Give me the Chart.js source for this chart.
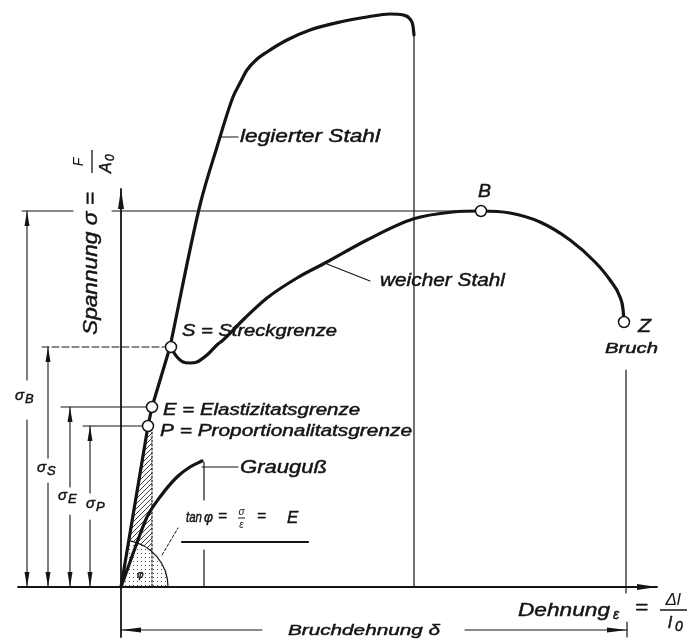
<!DOCTYPE html>
<html>
<head>
<meta charset="utf-8">
<script src="https://cdn.jsdelivr.net/npm/chart.js@4"></script>
<style>
  html, body { margin: 0; padding: 0; background: #fff; }
  #wrap { width: 690px; height: 639px; }
</style>
</head>
<body>
<div id="wrap"><canvas id="c"></canvas></div>
<script>
/* Spannungs-Dehnungs-Diagramm (schematic).
   Arbitrary units: x = Dehnung, y = Spannung. */

// curves
const ELASTIC   = [[0, 0], [27, 161], [31, 180], [49, 240]];
const ALLOY     = [[49, 240], [79, 382], [96, 440], [112, 490], [119, 504], [126, 517], [135, 527],
                   [146, 535], [166, 547], [189, 557], [219, 565], [246, 570], [269, 573],
                   [282, 572], [289, 568], [292, 561], [293, 552]];
const SOFT      = [[49, 240], [56, 230], [62, 225], [69, 224], [76, 225], [86, 232], [97, 243],
                   [101, 246], [124, 269], [146, 289], [176, 309], [206, 325], [246, 347],
                   [292, 368], [332, 375], [360, 376], [389, 374], [419, 365], [449, 347],
                   [474, 325], [489, 307], [499, 290], [502, 278], [503, 265]];
const GREY_IRON = [[0, 0], [9, 25], [17, 47], [26, 70], [39, 90], [56, 110], [69, 120], [81, 126]];

// characteristic points S, E, P, B, Z
const LIMIT_POINTS = [[50, 240], [31, 180], [27, 161], [360, 376], [503, 265]];
// stress levels sigma_B, sigma_S, sigma_E, sigma_P
const LEVELS = [376, 240, 180, 161];
// strain at fracture: alloy steel, grey iron, soft steel
const BREAK_STRAIN = [293, 83, 505];

const X_RANGE = [-121, 569];
const Y_RANGE = [-52, 587];

const INK = '#141414';

const xy = (arr) => arr.map(p => p ? { x: p[0], y: p[1] } : { x: NaN, y: NaN });

function line(points, width, extra) {
  return Object.assign({
    data: xy(points),
    showLine: true,
    borderColor: INK,
    borderWidth: width,
    pointRadius: 0,
    tension: 0,
    fill: false,
    borderCapStyle: 'round',
    borderJoinStyle: 'round',
  }, extra || {});
}

const smooth = { cubicInterpolationMode: 'monotone' };

const [sB, sS, sE, sP] = LEVELS;
const [epsAlloy, epsGrey, epsSoft] = BREAK_STRAIN;

const datasets = [
  { data: xy(LIMIT_POINTS), showLine: false, pointRadius: 5.5,
    pointBackgroundColor: '#fff', pointBorderColor: INK, pointBorderWidth: 1.5 },

  line(ELASTIC, 3.2),
  line(ALLOY, 3.2, smooth),
  line(SOFT, 3.2, smooth),
  line(GREY_IRON, 3.2, smooth),

  // axes
  line([[-103, 0], [536, 0]], 1.8),
  line([[0, -50], [0, 398]], 1.8),

  // fracture drop lines
  line([[epsAlloy, 552], [epsAlloy, 0]], 1.2),
  line([[epsGrey, 125], [epsGrey, 87], null, [epsGrey, 37], [epsGrey, 0]], 1.2),
  line([[epsSoft, 217], [epsSoft, -6]], 1.2),

  // horizontal stress levels
  line([[-99, sB], [-48, sB], null, [-9, sB], [360, sB]], 1.1),
  line([[-79, sS], [44, sS]], 1.1, { borderDash: [7, 3] }),
  line([[-60, sE], [25, sE]], 1.1),
  line([[-38, sP], [21, sP]], 1.1),

  // vertical dimension lines
  line([[-94, sB], [-94, 207], null, [-94, 167], [-94, 0]], 1.1),
  line([[-73, sS], [-73, 129], null, [-73, 104], [-73, 0]], 1.1),
  line([[-51, sE], [-51, 100], null, [-51, 72], [-51, 0]], 1.1),
  line([[-31, sP], [-31, 94], null, [-31, 67], [-31, 0]], 1.1),

  // Bruchdehnung dimension
  line([[0, -43], [141, -43], null, [344, -43], [epsSoft + 1, -43]], 1.2),
  line([[epsSoft + 1, -35], [epsSoft + 1, -50]], 1.2),

  // leaders
  line([[100, 450], [117, 450]], 1.1),
  line([[206, 323], [249, 306]], 1.1),
  line([[81, 120], [117, 120]], 1.1),
  line([[41, 32], [57, 59]], 1, { borderDash: [3, 2] }),
  line([[31, 155], [31, 0]], 1.2, { borderDash: [2, 2] }),
  line([[61, 45], [187, 45]], 2.2),
];

function makePattern(ctx, size, draw) {
  const c = document.createElement('canvas');
  c.width = c.height = size;
  draw(c.getContext('2d'));
  return ctx.createPattern(c, 'repeat');
}

// italic label, optionally squeezed to a given width; a hairline stroke gives it some weight
function fitText(ctx, str, x, y, size, width) {
  ctx.save();
  ctx.font = 'italic ' + size + 'px "Liberation Sans", Arial, sans-serif';
  ctx.textBaseline = 'alphabetic';
  ctx.textAlign = 'left';
  ctx.translate(x, y);
  if (width) {
    const w = ctx.measureText(str).width;
    ctx.scale(width / w, 1);
  }
  ctx.lineWidth = 0.45;
  ctx.strokeStyle = INK;
  ctx.fillText(str, 0, 0);
  ctx.strokeText(str, 0, 0);
  ctx.restore();
}

function arrowHead(ctx, x, y, dir, len, hw) {
  const d = { up: [0, -1], down: [0, 1], left: [-1, 0], right: [1, 0] }[dir];
  const bx = x - d[0] * len, by = y - d[1] * len;
  ctx.beginPath();
  ctx.moveTo(x, y);
  ctx.lineTo(bx - d[1] * hw, by + d[0] * hw);
  ctx.lineTo(bx + d[1] * hw, by - d[0] * hw);
  ctx.closePath();
  ctx.fill();
}

const decorations = {
  id: 'decorations',
  beforeDatasetsDraw(chart) {
    const ctx = chart.ctx;
    const px = v => chart.scales.x.getPixelForValue(v);
    const py = v => chart.scales.y.getPixelForValue(v);
    const ox = px(0), oy = py(0);
    const r = px(47) - ox;
    const top = Math.atan2(LIMIT_POINTS[2][1], LIMIT_POINTS[2][0]);

    const hatch = makePattern(ctx, 5, g => {
      g.strokeStyle = '#444'; g.lineWidth = 1;
      g.beginPath(); g.moveTo(0, 5); g.lineTo(5, 0); g.stroke();
    });
    const dots = makePattern(ctx, 4, g => {
      g.fillStyle = '#555'; g.fillRect(1, 1, 1, 1);
    });

    ctx.save();
    ctx.beginPath();
    ctx.moveTo(ox, oy);
    ctx.lineTo(px(27), py(161));
    ctx.lineTo(px(31), py(155));
    ctx.lineTo(px(31), oy);
    ctx.closePath();
    ctx.fillStyle = hatch;
    ctx.fill();

    ctx.beginPath();
    ctx.moveTo(ox, oy);
    ctx.arc(ox, oy, r, -top, 0);
    ctx.closePath();
    ctx.fillStyle = '#fff';
    ctx.fill();
    ctx.fillStyle = dots;
    ctx.fill();

    ctx.beginPath();
    ctx.arc(ox, oy, r, -top, 0);
    ctx.strokeStyle = INK;
    ctx.lineWidth = 1.2;
    ctx.stroke();
    ctx.restore();
  },

  afterDatasetsDraw(chart) {
    const ctx = chart.ctx;
    const px = v => chart.scales.x.getPixelForValue(v);
    const py = v => chart.scales.y.getPixelForValue(v);
    ctx.save();
    ctx.fillStyle = INK;
    ctx.strokeStyle = INK;

    // arrow heads
    arrowHead(ctx, px(536), py(0), 'right', 20, 3);
    arrowHead(ctx, px(0), py(398), 'up', 20, 3);
    [[-94, sB], [-73, sS], [-51, sE], [-31, sP]].forEach(([x, lv]) => {
      arrowHead(ctx, px(x), py(lv), 'up', 15, 2.5);
      arrowHead(ctx, px(x), py(0), 'down', 15, 2.5);
    });
    arrowHead(ctx, px(0), py(-43), 'left', 20, 2.5);
    arrowHead(ctx, px(epsSoft + 1), py(-43), 'right', 20, 2.5);

    // curve labels
    fitText(ctx, 'legierter Stahl', px(119), py(445), 18, 140);
    fitText(ctx, 'weicher Stahl', px(259), py(301), 18, 125);
    fitText(ctx, 'S = Streckgrenze', px(61), py(251), 16, 155);
    fitText(ctx, 'E = Elastizitatsgrenze', px(42), py(172), 16, 197);
    fitText(ctx, 'P = Proportionalitatsgrenze', px(39), py(151), 16, 252);
    fitText(ctx, 'Grauguß', px(119), py(114), 18, 87);
    fitText(ctx, 'B', px(357), py(390), 18, 13);
    fitText(ctx, 'Z', px(517), py(255), 18, 13);
    fitText(ctx, 'Bruch', px(484), py(234), 14, 53);
    fitText(ctx, 'Bruchdehnung δ', px(167), py(-48), 15, 152);

    // sigma dimension labels
    [['B', -106, 187], ['S', -84, 115], ['E', -63, 87], ['P', -35, 79]].forEach(([s, x, y]) => {
      fitText(ctx, 'σ', px(x), py(y), 15);
      fitText(ctx, s, px(x + 10), py(y - 3), 13);
    });

    // x axis title
    fitText(ctx, 'Dehnung', px(397), py(-29), 19, 92);
    fitText(ctx, 'ε', px(492), py(-32), 14);
    fitText(ctx, '=', px(514), py(-26), 19, 13);
    ctx.save();
    ctx.font = 'italic 17px "Liberation Sans", Arial, sans-serif';
    ctx.textAlign = 'center';
    ctx.fillText('Δl', px(552), py(-18));
    ctx.restore();
    ctx.lineWidth = 1.5;
    ctx.beginPath(); ctx.moveTo(px(539), py(-23)); ctx.lineTo(px(566), py(-23)); ctx.stroke();
    fitText(ctx, 'l', px(547), py(-41), 17);
    fitText(ctx, '0', px(554), py(-44), 14);

    // y axis title (rotated)
    ctx.save();
    ctx.translate(px(-24), py(252));
    ctx.rotate(-Math.PI / 2);
    fitText(ctx, 'Spannung σ =', 0, 0, 20, 143);
    ctx.restore();
    ctx.save();
    ctx.translate(px(-29), py(425));
    ctx.rotate(-Math.PI / 2);
    ctx.font = 'italic 14px "Liberation Sans", Arial, sans-serif';
    ctx.textAlign = 'center';
    ctx.fillText('F', 0, -9);
    ctx.lineWidth = 1.3;
    ctx.beginPath(); ctx.moveTo(-11, 0); ctx.lineTo(12, 0); ctx.stroke();
    fitText(ctx, 'A', -11, 19, 16);
    fitText(ctx, '0', 1, 22, 12);
    ctx.restore();

    // tan formula
    fitText(ctx, 'tan', px(65), py(65), 14, 16);
    fitText(ctx, 'φ', px(83), py(65), 14, 9);
    fitText(ctx, '=', px(97), py(66), 14, 9);
    ctx.save();
    ctx.font = 'italic 10px "Liberation Sans", Arial, sans-serif';
    ctx.textAlign = 'center';
    ctx.fillText('σ', px(120.5), py(72));
    ctx.fillText('ε', px(120.5), py(59));
    ctx.restore();
    ctx.lineWidth = 1;
    ctx.beginPath(); ctx.moveTo(px(117), py(69)); ctx.lineTo(px(124), py(69)); ctx.stroke();
    fitText(ctx, '=', px(136), py(66), 14, 9);
    fitText(ctx, 'E', px(166), py(64), 17);
    fitText(ctx, 'φ', px(16), py(9), 10);

    ctx.restore();
  }
};

new Chart(document.getElementById('c'), {
  type: 'scatter',
  data: { datasets },
  options: {
    responsive: true,
    maintainAspectRatio: false,
    devicePixelRatio: 1,
    animation: false,
    events: [],
    layout: { padding: 0, autoPadding: false },
    plugins: { legend: { display: false }, tooltip: { enabled: false } },
    scales: {
      x: { type: 'linear', display: false, min: X_RANGE[0], max: X_RANGE[1] },
      y: { type: 'linear', display: false, min: Y_RANGE[0], max: Y_RANGE[1] },
    },
  },
  plugins: [decorations],
});
</script>
</body>
</html>
